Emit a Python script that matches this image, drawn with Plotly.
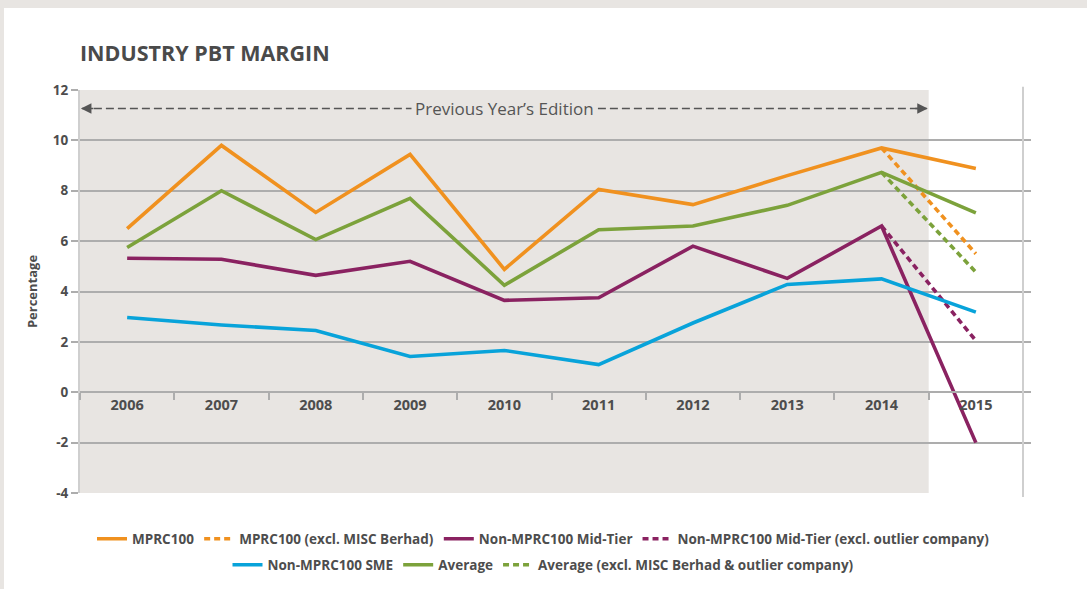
import plotly.graph_objects as go

# Industry PBT margin by year (%)
years = ["2006", "2007", "2008", "2009", "2010", "2011", "2012", "2013", "2014", "2015"]

mprc100 = [6.5, 9.8, 7.14, 9.44, 4.88, 8.05, 7.45, 8.6, 9.7, 8.88]
mprc100_excl_misc = [None, None, None, None, None, None, None, None, 9.7, 5.5]
mid_tier = [5.32, 5.28, 4.64, 5.2, 3.65, 3.75, 5.8, 4.52, 6.6, -2.0]
mid_tier_excl_outlier = [None, None, None, None, None, None, None, None, 6.6, 2.05]
sme = [2.97, 2.67, 2.45, 1.42, 1.66, 1.1, 2.75, 4.28, 4.5, 3.18]
average = [5.75, 8.0, 6.06, 7.7, 4.25, 6.45, 6.6, 7.42, 8.73, 7.12]
average_excl = [None, None, None, None, None, None, None, None, 8.73, 4.77]

y_ticks = [-4, -2, 0, 2, 4, 6, 8, 10, 12]

ORANGE = "#F0911F"
MAROON = "#8A2261"
BLUE = "#08A3DA"
GREEN = "#7CA23B"
TEXT = "#4D4D4D"
GRID = "#ADADAD"
SHADE = "#E8E5E2"
FONT = "Open Sans"

LW = 3.6
DOT = "6px,4px"

fig = go.Figure()

series = [
    ("MPRC100", mprc100, ORANGE, "solid", "legend"),
    ("MPRC100 (excl. MISC Berhad)", mprc100_excl_misc, ORANGE, DOT, "legend"),
    ("Non-MPRC100 Mid-Tier", mid_tier, MAROON, "solid", "legend"),
    ("Non-MPRC100 Mid-Tier (excl. outlier company)", mid_tier_excl_outlier, MAROON, DOT, "legend"),
    ("Non-MPRC100 SME", sme, BLUE, "solid", "legend2"),
    ("Average", average, GREEN, "solid", "legend2"),
    ("Average (excl. MISC Berhad & outlier company)", average_excl, GREEN, DOT, "legend2"),
]

for name, vals, color, dash, leg in series:
    fig.add_trace(go.Scatter(
        x=years, y=vals, name=name, mode="lines",
        line=dict(color=color, width=LW, dash=dash),
        connectgaps=False, legend=leg,
    ))

# plot area spans pixels 80..1031 horizontally, 90..493 vertically
px_per_cat = 94.3
x_hi = 9.5 + 8 / px_per_cat

shapes = [
    # grey page border strips
    dict(type="rect", xref="paper", yref="paper", x0=-0.2, x1=1.2, y0=1.2035, y1=1.3,
         fillcolor=SHADE, line_width=0, layer="below"),
    dict(type="rect", xref="paper", yref="paper", x0=-0.2, x1=(4 - 80) / 951, y0=-0.3, y1=1.3,
         fillcolor=SHADE, line_width=0, layer="below"),
    # shaded band for the previous edition's years
    dict(type="rect", xref="x", yref="y", x0=-0.5, x1=8.5, y0=-4, y1=12,
         fillcolor=SHADE, line_width=0, layer="below"),
    # right border line
    dict(type="line", xref="x", yref="paper", x0=9.5, x1=9.5, y0=-0.01, y1=1.008,
         line=dict(color="#CFCFCF", width=2), layer="above"),
    # dashed span line for the previous edition
    dict(type="line", xref="x", yref="y", x0=-0.48, x1=8.48, y0=11.27, y1=11.27,
         line=dict(color="#555555", width=1.5, dash="8px,4px"), layer="above"),
]

annotations = [
    dict(x=4, y=11.27, xref="x", yref="y", text="Previous Year\u2019s Edition",
         showarrow=False, font=dict(family=FONT, size=17, color="#555555"),
         bgcolor=SHADE, borderpad=3),
    dict(x=-0.49, y=11.27, xref="x", yref="y", text="", showarrow=True,
         ax=14, ay=0, arrowhead=2, arrowsize=1.4, arrowwidth=1.5, arrowcolor="#555555"),
    dict(x=8.49, y=11.27, xref="x", yref="y", text="", showarrow=True,
         ax=-14, ay=0, arrowhead=2, arrowsize=1.4, arrowwidth=1.5, arrowcolor="#555555"),
]

legend_common = dict(
    orientation="h", xref="container", x=0.5, xanchor="center",
    yref="container", yanchor="middle", bgcolor="rgba(0,0,0,0)",
    font=dict(family=FONT, size=13.5, color=TEXT, weight="bold"),
    itemwidth=30, tracegroupgap=0,
)

fig.update_layout(
    width=1087, height=589,
    margin=dict(l=80, r=1087 - 1031, t=90, b=589 - 493, autoexpand=False),
    paper_bgcolor="white", plot_bgcolor="white",
    font=dict(family=FONT, color=TEXT),
    title=dict(text="INDUSTRY PBT MARGIN", xref="container", x=80 / 1087, xanchor="left",
               yref="container", y=1 - 53 / 589, yanchor="middle",
               font=dict(family=FONT, size=21.5, color="#4A4A4A", weight="bold")),
    xaxis=dict(
        type="category", categoryorder="array", categoryarray=years,
        range=[-0.5, x_hi], anchor="free", position=0.25, automargin=False,
        showgrid=False, showline=True, linecolor=GRID, linewidth=1.5,
        ticks="outside", ticklen=7, tickcolor=GRID, tickwidth=1.5, tickson="boundaries",
        tickfont=dict(family=FONT, size=14.5, color=TEXT, weight="bold"),
        zeroline=False, fixedrange=True,
    ),
    yaxis=dict(
        range=[-4, 12], tickvals=y_ticks, ticktext=[str(v) for v in y_ticks],
        automargin=False,
        showgrid=True, gridcolor=GRID, gridwidth=1.5,
        zeroline=True, zerolinecolor=GRID, zerolinewidth=1.5,
        showline=True, linecolor="#CFCFCF", linewidth=2,
        ticks="outside", ticklen=7, tickcolor=GRID, tickwidth=1.5,
        tickfont=dict(family=FONT, size=13.5, color=TEXT, weight="bold"),
        title=dict(text="Percentage", standoff=12,
                   font=dict(family=FONT, size=13, color=TEXT, weight="bold")),
        fixedrange=True,
    ),
    legend=dict(y=1 - 539 / 589, **legend_common),
    legend2=dict(y=1 - 565 / 589, **legend_common),
    shapes=shapes,
    annotations=annotations,
)

fig.write_html("out.html")
